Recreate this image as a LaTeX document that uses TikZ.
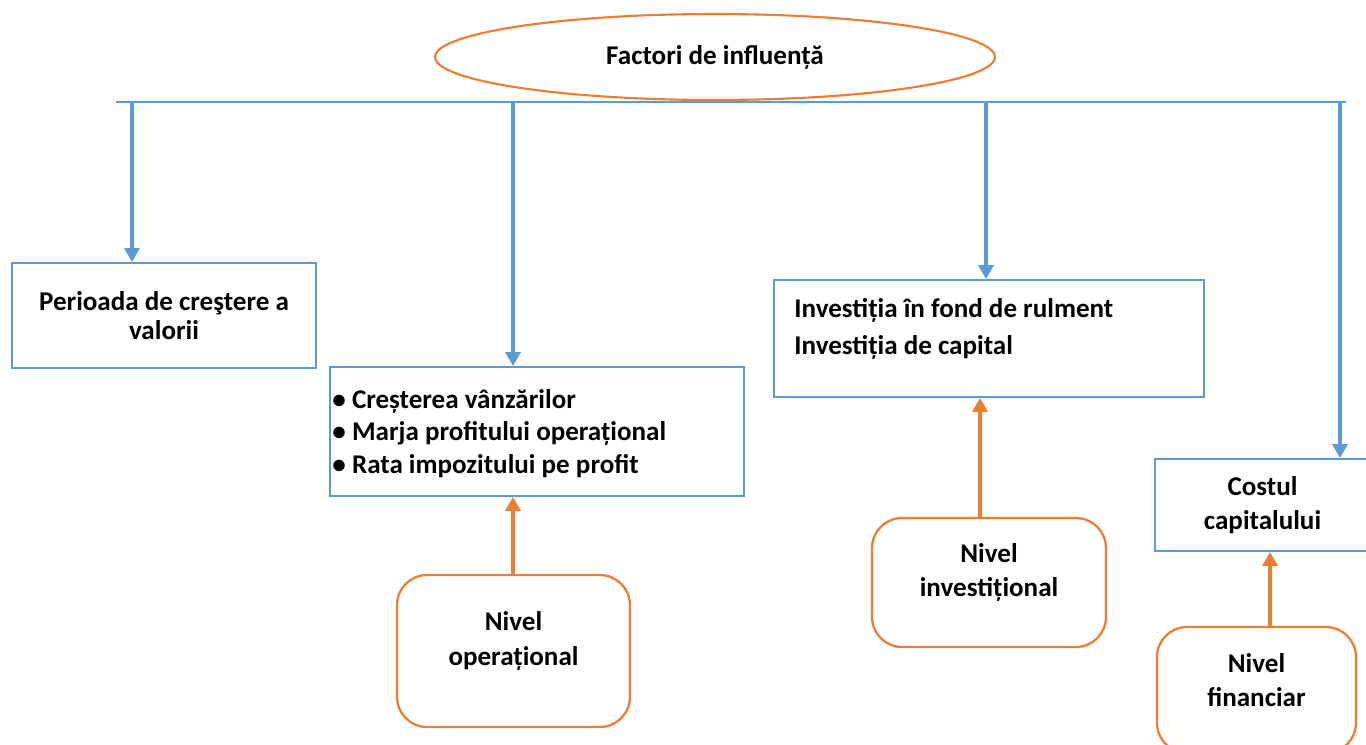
\documentclass[tikz,border=0pt]{standalone}
\usepackage{fontspec}
\setmainfont{Carlito}
\usetikzlibrary{shapes.geometric, arrows.meta}
\definecolor{factorblue}{HTML}{5B9BD5}
\definecolor{levelorange}{HTML}{ED7D31}
\tikzset{
	factorbox/.style={draw=factorblue, line width=1.1pt, inner sep=0pt, font=\fontsize{15.4}{16.4}\selectfont\bfseries},
	levelbox/.style={draw=levelorange, line width=1.3pt, rounded corners=0.6cm, inner sep=0pt},
	leveltext/.style={align=center, inner sep=0pt, font=\fontsize{15.4}{19.5}\selectfont\bfseries},
	downarrow/.style={draw=factorblue, line width=2.2pt, -{Triangle[length=0.28cm, width=0.3cm]}},
	uparrow/.style={draw=levelorange, line width=2.2pt, -{Triangle[length=0.28cm, width=0.3cm]}}
}
\begin{document}
\begin{tikzpicture}[x=0.02cm, y=-0.02cm]
	\useasboundingbox (0,0) rectangle (1366,744);
	\node[ellipse, draw=levelorange, line width=1.2pt, minimum width=11.2cm, minimum height=1.72cm, font=\fontsize{15.4}{16}\selectfont\bfseries] (title) at (715,57) {Factori de influență};
	\coordinate (busL) at (116,102);
	\coordinate (busR) at (1346,102);
	\coordinate (tap1) at (132,102);
	\coordinate (tap2) at (513,102);
	\coordinate (tap3) at (986,102);
	\coordinate (tap4) at (1340,102);
	\draw[factorblue, line width=1.1pt] (busL) -- (busR);

	\node[factorbox, minimum width=6.08cm, minimum height=2.1cm, align=center] (growth) at (164,315.5) {Perioada de creştere a\\valorii};
	\node[factorbox, minimum width=8.28cm, minimum height=2.58cm] (oper) at (537,431.5) {};
	\node[anchor=west, inner sep=0pt, align=left, font=\fontsize{15.4}{18.7}\selectfont\bfseries] (operTxt) at ([xshift=0.06cm, yshift=-0.04cm]oper.west) {• Creșterea vânzărilor\\• Marja profitului operațional\\• Rata impozitului pe profit};
	\node[factorbox, minimum width=8.6cm, minimum height=2.34cm] (invest) at (989,338.5) {};
	\node[anchor=north west, inner sep=0pt, align=left, font=\fontsize{15.4}{21}\selectfont\bfseries] (investTxt) at ([shift={(0.42cm,-0.38cm)}]invest.north west) {Investiția în fond de rulment\\Investiția de capital};
	\node[factorbox, minimum width=4.3cm, minimum height=1.84cm, align=center, font=\fontsize{15.4}{19.3}\selectfont\bfseries] (cost) at (1262.5,505) {Costul\\capitalului};

	\draw[downarrow] (tap1) -- (tap1 |- growth.north);
	\draw[downarrow] (tap2) -- (tap2 |- oper.north);
	\draw[downarrow] (tap3) -- (tap3 |- invest.north);
	\draw[downarrow] (tap4) -- (tap4 |- cost.north);

	\node[levelbox, minimum width=4.66cm, minimum height=3.04cm] (opLvl) at (513.5,651) {};
	\node[leveltext] (opLvlTxt) at ([yshift=0.2cm]opLvl.center) {Nivel\\operațional};
	\node[levelbox, minimum width=4.68cm, minimum height=2.58cm] (invLvl) at (989,582.5) {};
	\node[leveltext] (invLvlTxt) at ([yshift=0.2cm]invLvl.center) {Nivel\\investițional};
	\node[levelbox, minimum width=3.98cm, minimum height=2.52cm] (finLvl) at (1256.5,690) {};
	\node[leveltext] (finLvlTxt) at ([yshift=0.2cm]finLvl.center) {Nivel\\financiar};

	\draw[uparrow] ([xshift=-0.01cm]opLvl.north) -- ([xshift=-0.01cm]opLvl.north |- oper.south);
	\draw[uparrow] ([xshift=-0.18cm]invLvl.north) -- ([xshift=-0.18cm]invLvl.north |- invest.south);
	\draw[uparrow] ([xshift=0.27cm]finLvl.north) -- ([xshift=0.27cm]finLvl.north |- cost.south);
\end{tikzpicture}
\end{document}
